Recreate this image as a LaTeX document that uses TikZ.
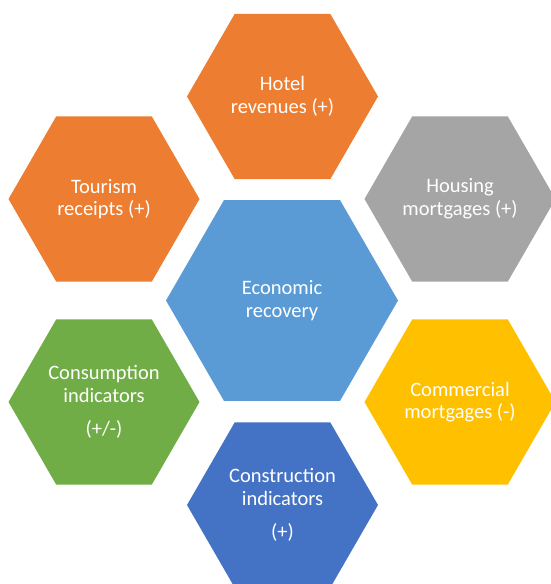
\documentclass[tikz,border=0pt]{standalone}
\usepackage{fontspec}
\setmainfont{Carlito}
\usetikzlibrary{shapes.geometric}

\definecolor{hexorange}{HTML}{ED7D31}
\definecolor{hexgray}{HTML}{A5A5A5}
\definecolor{hexblue}{HTML}{5B9BD5}
\definecolor{hexgold}{HTML}{FFC000}
\definecolor{hexgreen}{HTML}{70AD47}
\definecolor{hexnavy}{HTML}{4472C4}

\begin{document}
\begin{tikzpicture}[
  x=1pt, y=-1pt,
  hexa/.style={regular polygon, regular polygon sides=6, minimum size=191pt,
    inner sep=0pt, draw=none, text=white, align=center,
    font=\fontsize{20.5}{22.7}\selectfont},
  bighexa/.style={hexa, minimum size=232pt},
]

\useasboundingbox (0,0) rectangle (550,584);

%── Pusat ─────────────────────────────────────────────────────────────────────

\node[bighexa, fill=hexblue] (econ) at (282,300.5) {Economic\\recovery};

%── Cincin luar ───────────────────────────────────────────────────────────────

\node[hexa, fill=hexorange] (hotel)      at (282.5,96.5) {Hotel\\revenues (+)};
\node[hexa, fill=hexorange] (tourism)    at (104,199)    {Tourism\\receipts (+)};
\node[hexa, fill=hexgray]   (housing)    at (460,199)    {Housing\\mortgages (+)};
\node[hexa, fill=hexgreen]  (consume)    at (104,402)    {Consumption\\indicators\\[10pt](+/-)};
\node[hexa, fill=hexgold]   (commercial) at (460,402)    {Commercial\\mortgages (-)};
\node[hexa, fill=hexnavy]   (construct)  at (282.5,505)  {Construction\\indicators\\[10pt](+)};

\end{tikzpicture}
\end{document}
